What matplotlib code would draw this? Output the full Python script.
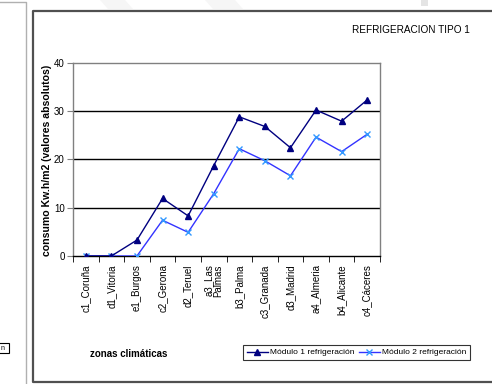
import matplotlib
matplotlib.use("Agg")
import matplotlib.pyplot as plt
from matplotlib.patches import Rectangle, Polygon
from matplotlib.lines import Line2D
from matplotlib import font_manager
import numpy as np

plt.rcParams['font.family'] = ['Liberation Sans', 'DejaVu Sans']

zonas = ["c1_Coruña", "d1_Vitoria", "e1_Burgos", "c2_Gerona", "d2_Teruel",
         "a3_Las\nPalmas", "b3_Palma", "c3_Granada", "d3_Madrid",
         "a4_Almeria", "b4_Alicante", "c4_Cáceres"]
modulo1 = [0, 0, 3.3, 11.9, 8.3, 18.7, 28.8, 26.8, 22.4, 30.2, 27.9, 32.3]
modulo2 = [0, 0, 0, 7.4, 4.9, 12.9, 22.2, 19.7, 16.6, 24.6, 21.6, 25.2]
yticks = [0, 10, 20, 30, 40]

W, H = 492, 384
fig = plt.figure(figsize=(W / 100, H / 100), dpi=100)


def fx(px):
    return px / W


def fy(py):
    return 1 - py / H


# faint background shapes at the top edge
for pts in ([(100, 0), (125, 0), (133, 9), (108, 9)],
            [(205, 0), (235, 0), (243, 9), (213, 9)]):
    fig.add_artist(Polygon([(fx(a), fy(b)) for a, b in pts], closed=True,
                           transform=fig.transFigure, facecolor="#f6f6f6",
                           edgecolor="none", zorder=0))
fig.add_artist(Rectangle((fx(421), fy(6)), fx(7), 6 / H, transform=fig.transFigure,
                         facecolor="#e4e4e4", edgecolor="none", zorder=0))

# neighbouring panel edge on the left
fig.add_artist(Line2D([fx(0), fx(26), fx(26)], [fy(2), fy(2), fy(384)],
                      transform=fig.transFigure, color="#b0b0b0", lw=1.0))
fig.add_artist(Rectangle((fx(-2), fy(353)), fx(11), 10 / H, transform=fig.transFigure,
                         facecolor="white", edgecolor="black", lw=0.8))
fig.text(fx(3), fy(348), "n", fontsize=5, ha="center", va="center")

# chart frame
fig.add_artist(Line2D([fx(500), fx(32.5), fx(32.5), fx(500)],
                      [fy(10.5), fy(10.5), fy(382), fy(382)],
                      transform=fig.transFigure, color="#505050", lw=1.6))

# plot area
left, right, top, bottom = 73, 380, 62.7, 256
ax = fig.add_axes([fx(left), fy(bottom), fx(right - left), (bottom - top) / H])

x = np.arange(len(zonas))
ax.plot(x, modulo1, color="#000080", lw=1.0, marker="^", markersize=5,
        markerfacecolor="#000080", markeredgecolor="#000080", zorder=4,
        label="Módulo 1 refrigeración")
ax.plot(x, modulo2, color="#3333ff", lw=1.0, marker="x", markersize=5,
        markeredgecolor="#3399ff", markeredgewidth=1.0, zorder=3,
        label="Módulo 2 refrigeración")

ax.set_xlim(-0.5, len(zonas) - 0.5)
ax.set_ylim(0, 40)
ax.set_yticks(yticks)
ax.set_yticklabels([str(v) for v in yticks], fontsize=7)
for v in yticks[1:-1]:
    ax.axhline(v, color="black", lw=1.0, zorder=1)

ax.set_xticks(x)
ax.set_xticklabels(zonas, rotation=90, fontsize=7, va="top", ha="center",
                   linespacing=0.9)
ax.set_xticks(np.arange(len(zonas) + 1) - 0.5, minor=True)
ax.tick_params(axis="x", which="major", length=0, pad=6)
ax.tick_params(axis="x", which="minor", length=4, color="black", direction="out")
ax.tick_params(axis="y", length=4, color="#808080", direction="out", pad=2)

for s in ("left", "top", "right"):
    ax.spines[s].set_color("#808080")
    ax.spines[s].set_linewidth(1.0)
ax.spines["bottom"].set_color("black")
ax.spines["bottom"].set_linewidth(1.0)

fig.text(fx(47), fy(160), "consumo Kw.h/m2 (valores absolutos)", rotation=90,
         fontsize=7.6, fontweight="bold", ha="center", va="center")
fig.text(fx(90), fy(354), "zonas climáticas", fontsize=7, fontweight="bold",
         ha="left", va="center")

# condensed face for the heading when available
names = {f.name for f in font_manager.fontManager.ttflist}
title_family = ["Liberation Sans Narrow"] if "Liberation Sans Narrow" in names else ["Liberation Sans"]
fig.text(fx(470), fy(30), "REFRIGERACION TIPO 1",
         fontsize=8.2 if title_family[0].endswith("Narrow") else 7.2,
         family=title_family, ha="right", va="center")

leg = fig.legend(loc="center", bbox_to_anchor=(fx(356.5), fy(352.5)), ncol=2,
                 fontsize=6, frameon=True, fancybox=False, handlelength=2.6,
                 columnspacing=0.5, handletextpad=0.2, borderpad=0.45,
                 borderaxespad=0)
leg.get_frame().set_edgecolor("black")
leg.get_frame().set_linewidth(0.8)

fig.savefig("out.png", dpi=100)
